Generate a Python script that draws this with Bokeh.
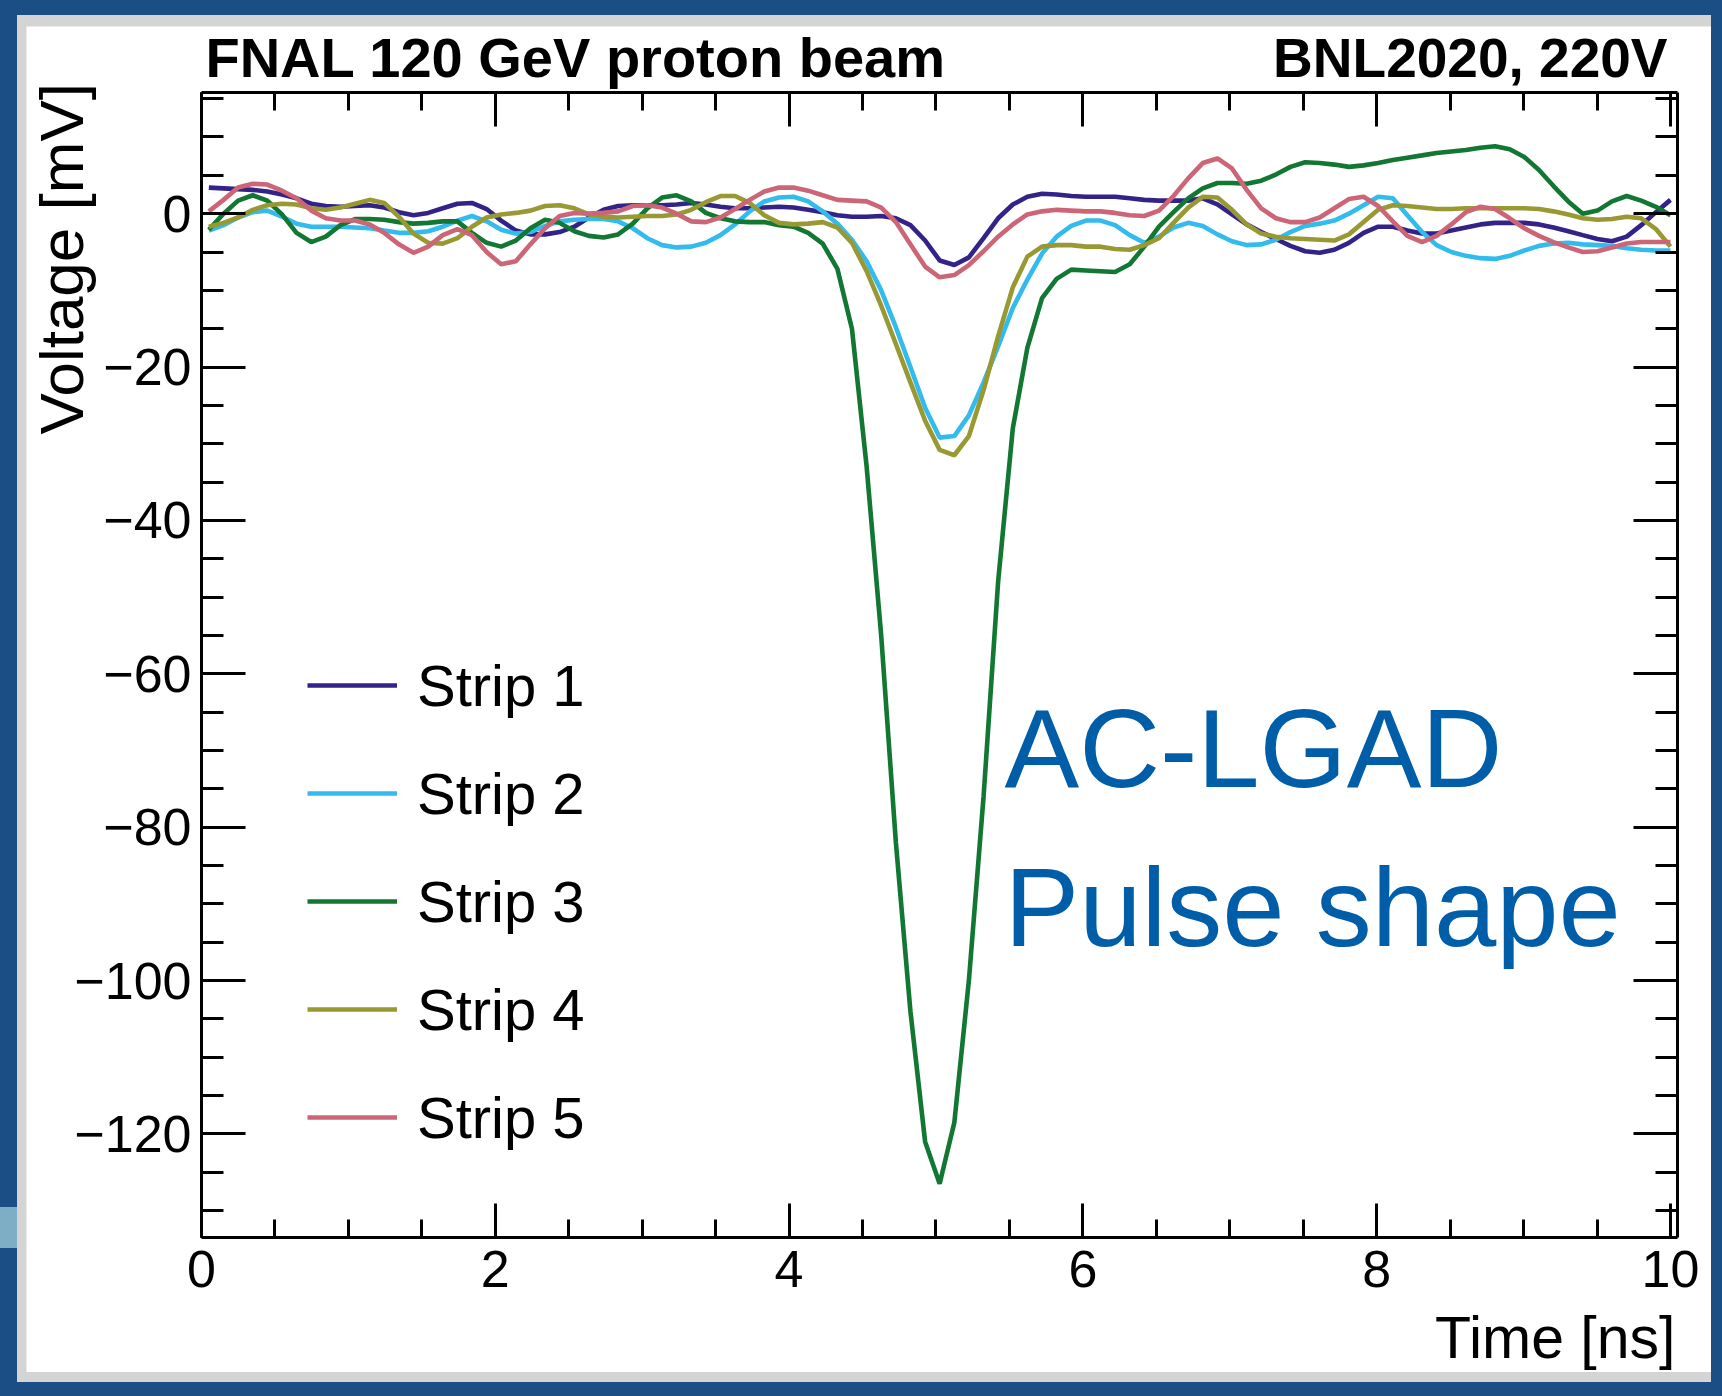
from bokeh.plotting import figure
from bokeh.models import Range1d, FixedTicker, LinearAxis, Label, Legend, LegendItem
from bokeh.layouts import column
from bokeh.embed import file_html
from bokeh.resources import INLINE

# ---------------- data ----------------
times = [0.05, 0.15, 0.249, 0.349, 0.448, 0.548, 0.647, 0.747, 0.846, 0.946,
         1.045, 1.145, 1.244, 1.344, 1.443, 1.543, 1.642, 1.742, 1.841, 1.941,
         2.04, 2.14, 2.239, 2.339, 2.438, 2.538, 2.637, 2.737, 2.836, 2.936,
         3.035, 3.135, 3.234, 3.334, 3.433, 3.533, 3.632, 3.732, 3.831, 3.931,
         4.03, 4.13, 4.229, 4.329, 4.428, 4.528, 4.627, 4.727, 4.826, 4.926,
         5.025, 5.125, 5.224, 5.324, 5.423, 5.523, 5.622, 5.722, 5.821, 5.921,
         6.02, 6.12, 6.219, 6.319, 6.418, 6.518, 6.617, 6.717, 6.816, 6.916,
         7.015, 7.115, 7.214, 7.314, 7.413, 7.513, 7.612, 7.712, 7.811, 7.911,
         8.01, 8.11, 8.209, 8.309, 8.408, 8.508, 8.607, 8.707, 8.806, 8.906,
         9.005, 9.105, 9.204, 9.304, 9.403, 9.503, 9.602, 9.702, 9.801, 9.901,
         10.0]

strip1 = [3.4, 3.3, 3.2, 3.1, 2.9, 2.5, 2.0, 1.3, 1.0, 0.9,
          1.0, 1.1, 0.8, 0.2, -0.2, 0.1, 0.7, 1.3, 1.4, 0.6,
          -0.9, -2.2, -2.7, -2.7, -2.4, -1.7, -0.5, 0.5, 1.0, 1.1,
          1.1, 1.1, 1.2, 1.4, 1.2, 0.9, 0.7, 0.7, 0.8, 0.9,
          0.8, 0.5, 0.2, -0.2, -0.4, -0.4, -0.3, -0.6, -1.5, -3.5,
          -6.1, -6.7, -5.7, -3.2, -0.6, 1.2, 2.2, 2.6, 2.5, 2.3,
          2.2, 2.2, 2.2, 2.0, 1.8, 1.7, 1.7, 1.7, 2.0, 1.2,
          -0.1, -1.4, -2.4, -3.3, -4.2, -4.9, -5.1, -4.7, -3.8, -2.5,
          -1.7, -1.7, -2.2, -2.6, -2.6, -2.2, -1.8, -1.4, -1.2, -1.2,
          -1.2, -1.4, -1.8, -2.3, -2.8, -3.3, -3.6, -3.0, -1.5, 0.2,
          1.8]

strip2 = [-2.2, -1.5, -0.5, 0.2, 0.4, -0.4, -1.3, -1.7, -1.7, -1.7,
          -1.8, -1.9, -2.2, -2.5, -2.5, -2.3, -1.7, -0.9, -0.3, -1.0,
          -2.1, -2.6, -2.4, -1.6, -1.0, -0.8, -0.7, -0.7, -1.0, -1.9,
          -3.2, -4.1, -4.4, -4.3, -3.8, -2.8, -1.4, 0.3, 1.6, 2.1,
          2.2, 1.6, 0.3, -1.3, -3.4, -6.2, -10.0, -14.8, -20.0, -25.3,
          -29.2, -29.0, -26.3, -22.0, -17.3, -12.3, -8.6, -5.2, -3.0, -1.6,
          -0.9, -0.9, -1.5, -2.8, -3.8, -3.0, -1.8, -1.2, -1.6, -2.7,
          -3.6, -4.1, -4.0, -3.4, -2.4, -1.6, -1.3, -0.9, 0.0, 1.1,
          2.2, 2.0, -0.2, -2.4, -4.1, -5.0, -5.5, -5.8, -5.9, -5.5,
          -4.8, -4.2, -3.9, -3.8, -4.0, -4.1, -4.2, -4.5, -4.7, -4.8,
          -4.8]

strip3 = [-2.1, 0.0, 1.7, 2.4, 1.7, -0.1, -2.5, -3.7, -3.0, -1.5,
          -0.7, -0.7, -0.8, -1.1, -1.3, -1.2, -1.0, -1.0, -2.5, -3.8,
          -4.3, -3.5, -1.9, -0.8, -1.2, -2.3, -2.9, -3.1, -2.7, -1.3,
          0.7, 2.1, 2.4, 1.6, 0.1, -0.6, -1.0, -1.1, -1.1, -1.5,
          -1.7, -2.5, -3.9, -7.2, -15.0, -33.0, -55.0, -82.0, -104.0, -121.0,
          -126.5, -118.5, -100.0, -76.0, -48.0, -28.0, -17.5, -11.0, -8.5, -7.3,
          -7.4, -7.5, -7.6, -6.6, -4.3, -1.7, 0.2, 2.0, 3.3, 4.0,
          4.0, 3.9, 4.3, 5.1, 6.1, 6.7, 6.6, 6.4, 6.1, 6.3,
          6.6, 7.0, 7.3, 7.6, 7.9, 8.1, 8.3, 8.6, 8.8, 8.4,
          7.4, 5.7, 3.6, 1.6, 0.0, 0.4, 1.6, 2.3, 1.7, 0.9,
          -0.2]

strip4 = [-1.7, -1.2, -0.5, 0.5, 1.1, 1.3, 1.2, 0.7, 0.5, 0.8,
          1.3, 1.8, 1.4, -0.4, -2.6, -3.8, -3.9, -3.2, -1.7, -0.5,
          -0.1, 0.1, 0.4, 1.0, 1.1, 0.7, -0.1, -0.4, -0.5, -0.4,
          -0.3, -0.3, -0.1, 0.5, 1.5, 2.3, 2.3, 1.4, -0.2, -1.2,
          -1.4, -1.3, -1.1, -1.8, -3.8, -7.5, -12.0, -17.0, -22.0, -27.0,
          -30.8, -31.5, -29.0, -23.0, -16.0, -9.6, -5.6, -4.3, -4.1, -4.1,
          -4.3, -4.3, -4.6, -4.7, -4.1, -3.2, -1.2, 0.8, 2.2, 2.1,
          0.5, -1.4, -2.6, -3.0, -3.2, -3.3, -3.4, -3.5, -2.7, -1.1,
          0.5, 1.1, 1.0, 0.8, 0.6, 0.6, 0.7, 0.7, 0.7, 0.7,
          0.7, 0.6, 0.3, -0.1, -0.6, -0.8, -0.7, -0.4, -0.6, -2.0,
          -4.3]

strip5 = [0.3, 1.8, 3.4, 3.9, 3.8, 3.0, 2.0, 0.4, -0.6, -0.9,
          -0.9, -1.4, -2.5, -4.0, -5.1, -4.3, -2.8, -2.0, -2.8, -5.0,
          -6.6, -6.2, -4.0, -1.9, -0.3, 0.1, 0.0, 0.1, 0.3, 1.0,
          1.1, 0.8, 0.0, -1.0, -1.1, -0.5, 0.6, 1.8, 2.9, 3.4,
          3.4, 3.0, 2.4, 1.8, 1.7, 1.6, 0.8, -1.1, -4.0, -6.9,
          -8.3, -8.0, -6.7, -4.9, -3.0, -1.4, -0.1, 0.3, 0.5, 0.4,
          0.3, 0.3, 0.1, -0.2, -0.3, 0.4, 2.3, 4.6, 6.6, 7.2,
          5.9, 3.1, 0.7, -0.6, -1.1, -1.1, -0.5, 0.7, 1.9, 2.2,
          1.0, -1.0, -2.9, -3.7, -2.9, -1.4, 0.2, 0.9, 0.6, -0.6,
          -1.9, -2.9, -3.7, -4.4, -5.0, -4.9, -4.4, -3.9, -3.7, -3.7,
          -3.7]

series_names = ["Strip 1", "Strip 2", "Strip 3", "Strip 4", "Strip 5"]
series_values = [strip1, strip2, strip3, strip4, strip5]
series_colors = ["#332288", "#33bbee", "#117733", "#999933", "#cc6677"]

x_major = [0, 2, 4, 6, 8, 10]
x_minor = [0.5 * i for i in range(0, 21)]
y_major = [-120, -100, -80, -60, -40, -20, 0]
y_minor = [-130 + 5 * i for i in range(0, 30)]
y_labels = {v: ("\u2212" + str(-v) if v < 0 else str(v)) for v in y_major}

# axis box of the frame (data units)
X_LO, X_HI = 0.0, 10.048
Y_LO, Y_HI = -133.5, 15.8

for s in series_values:
    assert len(s) == len(times), len(s)

FONT = "Liberation Sans"

# ---------------- figure ----------------
# the plotting frame covers the whole white canvas; the axes are drawn at
# fixed data locations so that the titles can sit outside the axis box
p = figure(width=1685, height=1346,
           x_range=Range1d(-1.1913, 10.2794), y_range=Range1d(-151.104, 24.406),
           output_backend="svg", toolbar_location=None,
           x_axis_location=None, y_axis_location=None,
           min_border=0)
p.background_fill_color = "white"
p.border_fill_color = "white"
p.outline_line_color = None
p.grid.visible = False


def style_axis(ax, tin_major, tin_minor, show_labels):
    ax.axis_line_width = 3
    ax.axis_line_color = "black"
    ax.major_tick_line_width = 3
    ax.minor_tick_line_width = 3
    ax.major_tick_in = tin_major
    ax.major_tick_out = 0
    ax.minor_tick_in = tin_minor
    ax.minor_tick_out = 0
    ax.major_label_text_font = FONT
    if show_labels:
        ax.major_label_text_font_size = "52px"
        ax.major_label_text_color = "black"
    else:
        ax.major_label_text_font_size = "1px"
        ax.major_label_text_alpha = 0


xb = LinearAxis(ticker=FixedTicker(ticks=x_major, minor_ticks=x_minor),
                fixed_location=Y_LO, bounds=(X_LO, X_HI))
style_axis(xb, 34, 18, True)
xb.major_label_standoff = 14
xb.major_label_overrides = {v: str(v) for v in x_major}
xt = LinearAxis(ticker=FixedTicker(ticks=x_major, minor_ticks=x_minor),
                fixed_location=Y_HI, bounds=(X_LO, X_HI))
style_axis(xt, 34, 18, False)
xt.major_label_overrides = {v: "" for v in x_major}
yl = LinearAxis(ticker=FixedTicker(ticks=y_major, minor_ticks=y_minor),
                fixed_location=X_LO, bounds=(Y_LO, Y_HI))
style_axis(yl, 44, 22, True)
yl.major_label_standoff = 10
yl.major_label_overrides = y_labels
yr = LinearAxis(ticker=FixedTicker(ticks=y_major, minor_ticks=y_minor),
                fixed_location=X_HI, bounds=(Y_LO, Y_HI))
style_axis(yr, 44, 22, False)
yr.major_label_overrides = {v: "" for v in y_major}

p.add_layout(xb, "below")
p.add_layout(xt, "above")
p.add_layout(yl, "left")
p.add_layout(yr, "right")

# ---------------- curves ----------------
items = []
for name, vals, col in zip(series_names, series_values, series_colors):
    r = p.line(times, vals, line_color=col, line_width=4.6)
    items.append(LegendItem(label=name, renderers=[r]))

legend = Legend(items=items, location=(281, 220))
legend.glyph_width = 90
legend.glyph_height = 70
legend.label_height = 70
legend.spacing = 38
legend.padding = 0
legend.margin = 0
legend.label_standoff = 20
legend.label_text_font = FONT
legend.label_text_font_size = "58px"
legend.label_text_color = "black"
legend.border_line_alpha = 0
legend.background_fill_alpha = 0
p.add_layout(legend)

# ---------------- texts ----------------
def add_text(x, y, text, size, align, color="black", bold=False, angle=0):
    p.add_layout(Label(x=x, y=y, text=text, angle=angle, angle_units="deg",
                       text_font=FONT, text_font_size=size,
                       text_font_style="bold" if bold else "normal",
                       text_align=align, text_baseline="middle",
                       text_color=color))


add_text(0.027, 20.34, "FNAL 120 GeV proton beam", "56px", "left", bold=True)
add_text(9.98, 20.34, "BNL2020, 220V", "55px", "right", bold=True)
add_text(-0.955, 17.04, "Voltage [mV]", "62px", "right", angle=90)
add_text(10.034, -146.64, "Time [ns]", "59px", "right")
add_text(5.466, -69.74, "AC-LGAD", "112px", "left", color="#005da8")
add_text(5.466, -90.41, "Pulse shape", "112px", "left", color="#005da8")

# ---------------- frame around the picture ----------------
inner = column(p, styles={"background-color": "#d4d4d4",
                          "padding": "11px 0px 10px 9px"})
layout = column(inner, styles={
    "background": "linear-gradient(#7eaec6, #7eaec6) 0px 1207px / 17px 41px no-repeat, #1a4e85",
    "padding": "15px 11px 14px 17px"})

open("out.html", "w").write(file_html(layout, INLINE))
